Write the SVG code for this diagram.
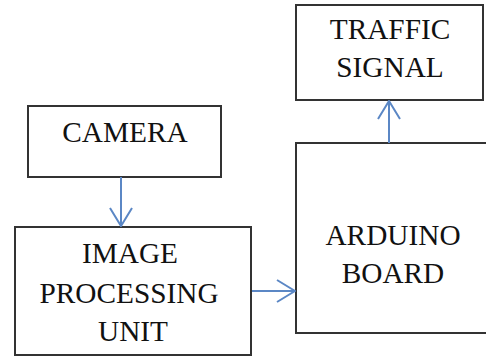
<svg xmlns="http://www.w3.org/2000/svg" width="486" height="358" viewBox="0 0 486 358">
<style>
.box{fill:#fff;stroke:#333;stroke-width:2}
.t{font-family:'Liberation Serif','Times New Roman',serif;font-size:29.3px;fill:#111;text-anchor:middle}
.c{stroke:#5b87c5;stroke-width:2;fill:none}
</style>
<defs>
<marker id="ah" viewBox="0 0 20 24" refX="19" refY="12" markerWidth="20" markerHeight="24" markerUnits="userSpaceOnUse" orient="auto">
<path d="M1,1 L19,12 L1,23" fill="none" stroke="#5b87c5" stroke-width="2"/>
</marker>
</defs>
<rect width="486" height="358" fill="#fff"/>
<g id="camera"><rect class="box" x="28" y="106" width="193" height="71"/><text class="t" x="125" y="142">CAMERA</text></g>
<g id="ipu"><rect class="box" x="15" y="227" width="236" height="128"/><text class="t" x="130" y="263">IMAGE</text><text class="t" x="129" y="303">PROCESSING</text><text class="t" x="133" y="341">UNIT</text></g>
<g id="traffic"><rect class="box" x="296" y="5" width="187" height="95"/><text class="t" x="390" y="39">TRAFFIC</text><text class="t" x="390" y="77">SIGNAL</text></g>
<g id="arduino"><rect class="box" x="296" y="143" width="194" height="190"/><text class="t" x="393" y="245">ARDUINO</text><text class="t" x="393" y="283">BOARD</text></g>
<g id="connectors">
<line class="c" x1="121" y1="177" x2="121" y2="226" marker-end="url(#ah)"/>
<line class="c" x1="252" y1="291" x2="295" y2="291" marker-end="url(#ah)"/>
<line class="c" x1="389" y1="143" x2="389" y2="101" marker-end="url(#ah)"/>
</g>
</svg>
